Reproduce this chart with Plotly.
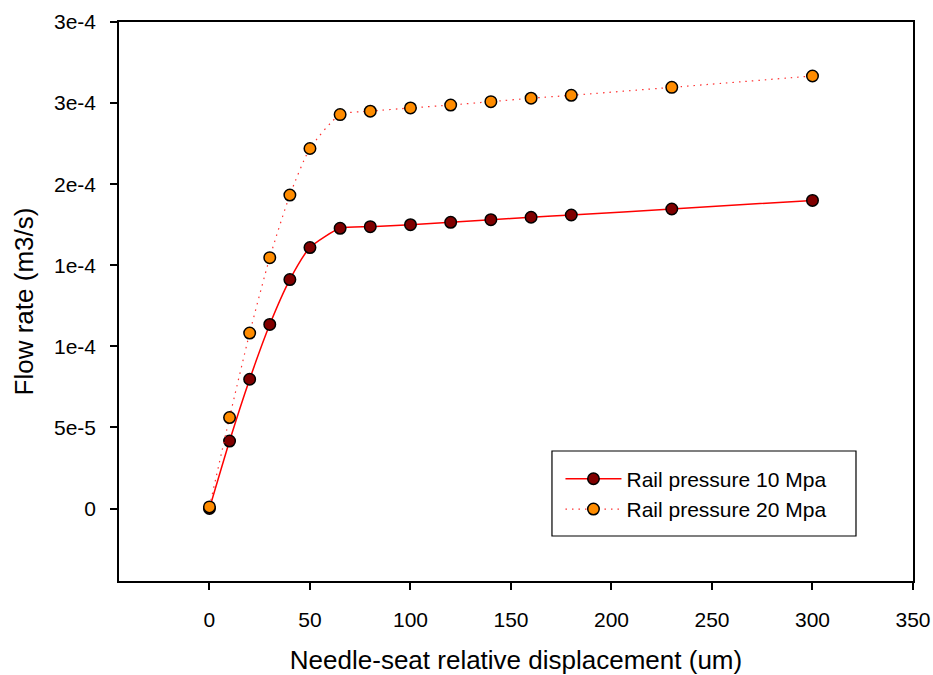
import plotly.graph_objects as go

displacement = [0, 10, 20, 30, 40, 50, 65, 80, 100, 120, 140, 160, 180, 230, 300]
flow_10mpa = [0, 4.16e-5, 7.97e-5, 1.135e-4, 1.412e-4, 1.609e-4, 1.728e-4, 1.738e-4,
              1.750e-4, 1.765e-4, 1.781e-4, 1.796e-4, 1.810e-4, 1.847e-4, 1.900e-4]
flow_20mpa = [1e-6, 5.61e-5, 1.082e-4, 1.547e-4, 1.933e-4, 2.22e-4, 2.429e-4, 2.450e-4,
              2.470e-4, 2.488e-4, 2.509e-4, 2.530e-4, 2.548e-4, 2.597e-4, 2.667e-4]

series_names = ["Rail pressure 10 Mpa", "Rail pressure 20 Mpa"]
x_ticks = [0, 50, 100, 150, 200, 250, 300, 350]
y_ticks = [0, 5e-5, 1e-4, 1.5e-4, 2e-4, 2.5e-4, 3e-4]
y_tick_labels = ["0", "5e-5", "1e-4", "1e-4", "2e-4", "3e-4", "3e-4"]

FONT = "Liberation Sans, Arial, sans-serif"

fig = go.Figure()
fig.add_trace(go.Scatter(
    x=displacement, y=flow_10mpa, name=series_names[0], mode="lines+markers",
    line=dict(color="#ff0000", width=1.5, shape="spline", smoothing=0.6),
    marker=dict(size=11.5, color="#800000", line=dict(color="black", width=1.5)),
))
fig.add_trace(go.Scatter(
    x=displacement, y=flow_20mpa, name=series_names[1], mode="lines+markers",
    line=dict(color="#ff3030", width=1.2, dash="1.5px,5px", shape="spline", smoothing=0.6),
    marker=dict(size=11.5, color="#ff8c00", line=dict(color="black", width=1.5)),
))

# legend frame
fig.add_shape(type="rect", xref="paper", yref="paper",
              x0=0.5453, x1=0.9282, y0=0.0805, y1=0.2326,
              line=dict(color="black", width=1.2), fillcolor="rgba(0,0,0,0)", layer="above")

fig.update_layout(
    template="none",
    width=933, height=675,
    margin=dict(l=119, r=20, t=22, b=94, autoexpand=False),
    paper_bgcolor="white", plot_bgcolor="white",
    font=dict(family=FONT, color="black", size=21),
    showlegend=True,
    legend=dict(x=0.556, y=0.219, xanchor="left", yanchor="top",
                borderwidth=0, bgcolor="rgba(0,0,0,0)",
                font=dict(size=21, family=FONT), itemwidth=56),
)
fig.update_xaxes(
    automargin=False,
    range=[-45, 350], tickvals=x_ticks, ticks="outside", ticklen=7, tickwidth=1.5,
    tickcolor="black", showline=True, linecolor="black", linewidth=1.5, mirror=True,
    showgrid=False, zeroline=False, ticklabelstandoff=12,
    tickfont=dict(size=21, family=FONT),
    title=dict(text="Needle-seat relative displacement (um)", font=dict(size=26, family=FONT), standoff=23),
)
fig.update_yaxes(
    automargin=False,
    range=[-4.47e-5, 3e-4], tickvals=y_ticks, ticktext=y_tick_labels, ticks="outside",
    ticklen=7, tickwidth=1.5, tickcolor="black", showline=True, linecolor="black",
    linewidth=1.5, mirror=True, showgrid=False, zeroline=False, ticklabelstandoff=10,
    tickfont=dict(size=21, family=FONT),
    title=dict(text="Flow rate (m3/s)", font=dict(size=26, family=FONT), standoff=13),
)

fig.write_html(
    "out.html",
    config={"displayModeBar": False},
    post_script="document.body.style.margin='0';document.body.style.overflow='hidden';",
)
